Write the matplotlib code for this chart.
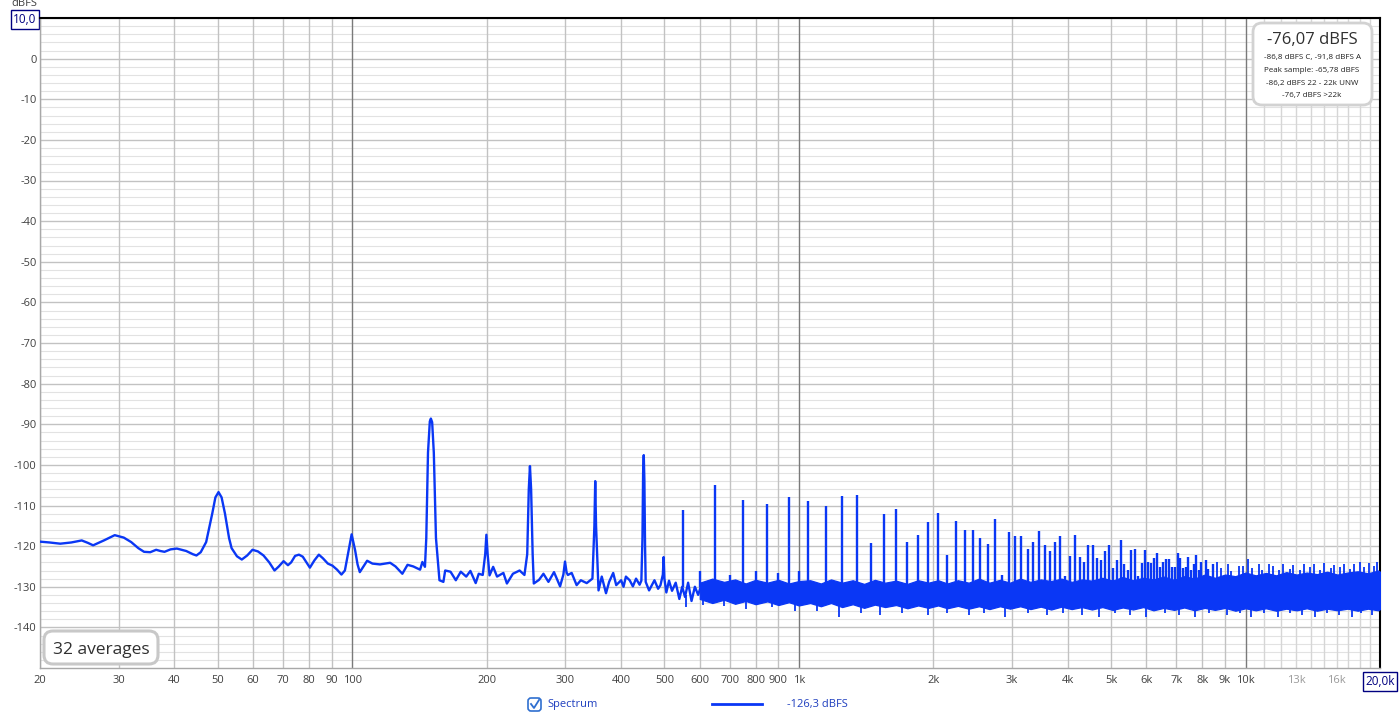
import matplotlib.pyplot as plt
from matplotlib.patches import FancyBboxPatch
from matplotlib.lines import Line2D
from matplotlib.ticker import NullLocator
from matplotlib.transforms import IdentityTransform

plt.rcParams['font.family'] = ['Open Sans', 'DejaVu Sans']

BLUE = '#0a37f5'
W, H = 1400, 716

# trace below ~600 Hz (Hz, dBFS)
low_freq = [20, 21, 22.2, 23.5, 24.8, 25.6, 26.3, 27.8, 29.4, 30.8, 32.0, 33.2, 34.2, 35.3, 36.4,
            37.2, 38.0, 39.2, 40.5, 42.5, 44.0, 44.8, 45.8, 47.1, 48.6, 49.4, 50.2, 51.0, 51.9,
            53.0, 53.7, 55.2, 56.6, 58.2, 59.8, 61.5, 63.3, 65.2, 67.0, 68.5, 70.2, 71.8, 73.0,
            74.5, 76.0, 77.5, 79.0, 80.4, 82.3, 84.2, 86.0, 88.2, 90.3, 92.5, 94.6, 96.3, 97.8,
            99.7, 101.5, 102.8, 104, 106, 108, 111, 115.4, 121.6, 125, 129.5, 133, 137,
            141.9, 143.6, 145.5, 146.5, 147.8, 149.2, 150, 151, 152.3, 154, 156.8, 160, 161.5,
            166, 170.6, 175, 180, 183.9, 189, 192, 196, 198.5, 199.7, 201, 203, 206.8, 211, 218,
            222, 229, 237, 243, 246.5, 248.5, 250, 251.5, 253.5, 255, 262, 268, 275, 283, 292,
            297, 299.5, 302, 304, 310, 318, 325, 335, 345, 348.5, 350, 351.5, 356, 362, 370, 376,
            384, 390, 400, 405, 410, 418, 425, 432, 440, 444, 446.5, 448, 449.5, 451, 452.5, 454,
            462, 475, 484, 490, 496, 498, 500, 505, 512, 520, 530, 540, 548, 556, 565, 575, 585,
            595, 605]
low_db = [-118.9, -119.1, -119.4, -119.1, -118.6, -119.2, -119.8, -118.6, -117.3, -117.9, -119.0,
          -120.5, -121.4, -121.5, -120.9, -121.2, -121.4, -120.8, -120.6, -121.2, -122.0, -122.3,
          -121.5, -119.0, -112.0, -108.0, -106.7, -108.0, -112.0, -118.0, -120.5, -122.5, -123.3,
          -122.3, -120.9, -121.3, -122.3, -124.0, -126.0, -125.0, -123.7, -124.7, -124.0, -122.4,
          -122.1, -122.6, -124.0, -125.3, -123.5, -122.1, -123.0, -124.3, -124.8, -125.8, -127.0,
          -126.0, -122.0, -117.1, -121.0, -124.5, -126.4, -125.0, -123.6, -124.3, -124.5, -124.1,
          -125.0, -126.8, -124.6, -125.0, -125.8, -123.9, -125.1, -118.0, -97.0, -89.3, -88.6,
          -89.5, -97.0, -118.0, -128.4, -128.8, -126.0, -126.3, -128.4, -126.3, -127.5, -126.1,
          -129.1, -126.8, -127.1, -122.0, -117.2, -122.0, -127.2, -125.1, -127.5, -126.6, -129.2,
          -126.8, -126.0, -127.1, -122.0, -106.0, -100.3, -106.0, -122.0, -129.2, -128.3, -126.8,
          -128.8, -126.4, -129.9, -127.0, -123.8, -126.5, -127.1, -126.6, -129.6, -128.4, -129.1,
          -128.0, -115.0, -104.0, -115.0, -130.9, -127.5, -131.6, -128.8, -126.6, -129.6, -128.4,
          -130.0, -127.5, -128.4, -129.9, -128.0, -129.5, -128.5, -118.0, -102.0, -97.6, -104.0,
          -120.0, -128.8, -130.9, -128.4, -130.5, -129.6, -127.0, -122.7, -128.0, -131.4, -128.5,
          -131.0, -129.0, -133.0, -130.0, -132.5, -129.0, -133.5, -130.0, -132.0, -129.5]

# noise floor band above ~600 Hz (upper / lower edge)
band_freq = [600, 640, 680, 720, 760, 800, 850, 900, 950, 1000,
             1060, 1120, 1180, 1250, 1320, 1400, 1480, 1560, 1650, 1750, 1850, 1950,
             2050, 2150, 2270, 2400, 2530, 2670, 2820, 2970, 3130, 3300, 3480, 3670,
             3870, 4080, 4300, 4530, 4780, 5040, 5310, 5600, 5900, 6220, 6560, 6920,
             7290, 7690, 8100, 8540, 9000, 9490, 10000, 10540, 11110, 11710, 12340, 13010,
             13710, 14450, 15230, 16050, 16920, 17830, 18800, 19810, 20000]
band_hi = [-129.0, -128.0, -128.8, -128.2, -129.2, -128.3, -129.0, -128.3, -129.2, -128.6,
           -128.4, -129.2, -128.2, -129.0, -128.4, -129.3, -128.3, -129.0, -128.5, -129.3, -128.4, -129.0,
           -128.4, -129.2, -128.4, -129.0, -128.0, -129.0, -128.3, -129.0, -128.0, -128.8, -128.2, -128.6,
           -128.0, -128.8, -128.2, -128.5, -127.8, -128.5, -127.6, -128.4, -127.8, -128.2, -127.5, -128.3,
           -127.4, -128.0, -127.0, -127.8, -127.0, -127.4, -126.5, -127.2, -126.6, -127.2, -126.4, -127.0,
           -126.5, -126.9, -126.3, -127.0, -126.5, -126.2, -126.7, -126.0, -126.3]
band_lo = [-133.0, -134.0, -133.2, -134.2, -133.5, -134.3, -133.6, -134.5, -133.8, -134.6,
           -134.0, -134.8, -134.0, -135.0, -134.3, -135.2, -134.4, -135.0, -134.5, -135.3, -134.6, -135.2,
           -134.6, -135.3, -134.7, -135.4, -134.8, -135.5, -134.8, -135.4, -134.8, -135.5, -134.9, -135.6,
           -134.9, -135.5, -135.0, -135.6, -135.0, -135.7, -135.1, -135.6, -135.0, -135.8, -135.2, -135.7,
           -135.1, -135.8, -135.2, -135.7, -135.2, -135.9, -135.3, -135.8, -135.3, -135.9, -135.4, -135.8,
           -135.3, -135.9, -135.4, -135.8, -135.4, -135.9, -135.4, -135.8, -135.5]

# harmonic spikes (Hz, dBFS)
peak_freq = [550, 600, 650, 700, 750, 800, 850, 900, 950, 1000, 1050, 1150, 1250, 1350, 1450, 1550,
             1650, 1750, 1850, 1950, 2050, 2150, 2250, 2350, 2450, 2550, 2650, 2750, 2850, 2950,
             3050, 3150, 3250, 3350, 3450, 3550, 3650, 3750, 3850, 3950, 4050, 4150, 4250, 4350,
             4450, 4550, 4650, 4750, 4850, 4950, 5050, 5150, 5250, 5350, 5450, 5550, 5650, 5750,
             5850, 5950, 6050, 6150, 6250, 6350, 6450, 6550, 6650, 6750, 6850, 6950, 7050, 7150,
             7250, 7350, 7450, 7550, 7650, 7750, 7850, 7950, 8150, 8250, 8450]
peak_db = [-111.0, -126.0, -105.0, -127.0, -108.7, -126.0, -109.7, -126.5, -108.0, -126.0, -109.0, -110.0,
           -107.7, -107.5, -119.2, -112.0, -110.9, -119.1, -117.3, -114.1, -111.8, -122.3, -113.9, -116.1,
           -116.1, -118.1, -119.5, -113.4, -127.0, -116.5, -117.5, -117.6, -120.6, -119.1, -116.3, -119.6,
           -121.1, -119.1, -117.5, -127.4, -122.5, -117.2, -122.7, -123.8, -119.6, -119.7, -122.9, -123.5,
           -121.2, -119.8, -125.5, -123.3, -118.4, -124.3, -125.8, -120.9, -120.7, -127.4, -124.1, -120.9,
           -124.0, -124.2, -122.8, -121.7, -125.1, -123.9, -123.1, -123.2, -125.1, -125.1, -121.6, -122.8,
           -125.5, -125.1, -122.6, -125.8, -124.5, -122.3, -125.8, -123.9, -123.5, -125.6, -124.5]

# noise needles above the band (top end) and below it
up_freq = [8650, 8800, 9150, 9300, 9650, 9850, 10150, 10350, 10700, 10900, 11300, 11500, 11900,
           12100, 12550, 12800, 13250, 13500, 13950, 14200, 14700, 15000, 15500, 15800, 16300,
           16600, 17100, 17500, 18000, 18400, 18900, 19400, 19700]
up_db = [-124.0, -125.5, -124.5, -126.0, -125.0, -124.8, -123.2, -125.5, -124.3, -125.8, -124.3,
         -125.0, -125.8, -124.5, -125.6, -124.6, -125.8, -124.3, -125.2, -124.5, -125.9, -124.2,
         -125.5, -124.6, -125.2, -124.3, -125.6, -124.5, -124.0, -125.1, -124.2, -124.8, -124.0]
dn_freq = [560, 610, 680, 760, 870, 980, 1100, 1230, 1380, 1520, 1700, 1950, 2150, 2400, 2600,
           2900, 3250, 3600, 3900, 4300, 4700, 5100, 5500, 6000, 6600, 7100, 7700, 8300, 9100,
           9700, 10300, 11000, 11800, 12600, 13400, 14300, 15200, 16200, 17300, 18100, 19200]
dn_db = [-135.0, -134.5, -134.8, -135.5, -135.0, -136.0, -136.0, -137.5, -136.5, -137.0, -136.5,
         -137.0, -136.5, -137.0, -136.5, -137.5, -136.5, -137.0, -136.5, -137.0, -137.5, -136.5,
         -137.0, -137.5, -136.5, -137.0, -137.5, -136.5, -137.0, -136.5, -137.5, -136.5, -137.5,
         -136.5, -137.0, -137.5, -136.5, -137.0, -137.5, -136.5, -137.0]

x_ticks = [20, 30, 40, 50, 60, 70, 80, 90, 100, 200, 300, 400, 500, 600, 700, 800, 900, 1000,
           2000, 3000, 4000, 5000, 6000, 7000, 8000, 9000, 10000, 13000, 16000, 20000]
x_labels = ['20', '30', '40', '50', '60', '70', '80', '90', '100', '200', '300', '400', '500', '600',
            '700', '800', '900', '1k', '2k', '3k', '4k', '5k', '6k', '7k', '8k', '9k', '10k', '13k',
            '16k', '20,0k']
x_fine = [11000, 12000, 14000, 15000, 17000, 18000, 19000]
y_ticks = [-140, -130, -120, -110, -100, -90, -80, -70, -60, -50, -40, -30, -20, -10, 0, 10]
y_labels = ['-140', '-130', '-120', '-110', '-100', '-90', '-80', '-70', '-60', '-50', '-40',
            '-30', '-20', '-10', '0', '10,0']

fig = plt.figure(figsize=(W / 100, H / 100), dpi=100)
ax = fig.add_axes([40 / W, 48 / H, 1340 / W, 650 / H])
ax.set_xscale('log')
ax.set_xlim(20, 20000)
ax.set_ylim(-150, 10)

# grid
for y in range(-150, 10, 2):
    if y % 10:
        ax.axhline(y, color='#e2e2e2', lw=0.8, zorder=0)
for y in y_ticks:
    ax.axhline(y, color='#c2c2c2', lw=1.0, zorder=0.5)
for x in x_fine:
    ax.axvline(x, color='#d6d6d6', lw=1.0, zorder=0.5)
for x in x_ticks:
    c = '#7a7a7a' if x in (100, 1000, 10000) else '#c2c2c2'
    if x in (13000, 16000):
        c = '#d6d6d6'
    ax.axvline(x, color=c, lw=1.0, zorder=0.6)

# spectrum
ax.plot(low_freq, low_db, color=BLUE, lw=1.7, zorder=3, solid_joinstyle='round')
ax.fill_between(band_freq, band_lo, band_hi, color=BLUE, lw=0.9, zorder=3)
ax.vlines(peak_freq, -130, peak_db, color=BLUE, lw=1.7, zorder=3)
ax.vlines(up_freq, -130, up_db, color=BLUE, lw=1.3, zorder=3)
ax.vlines(dn_freq, -132, dn_db, color=BLUE, lw=1.3, zorder=3)

ax.set_xticks(x_ticks)
ax.set_xticklabels(x_labels)
ax.xaxis.set_minor_locator(NullLocator())
ax.set_yticks(y_ticks)
ax.set_yticklabels(y_labels)
ax.tick_params(axis='both', length=0, labelsize=8, labelcolor='#404040')
ax.tick_params(axis='x', pad=5)
ax.tick_params(axis='y', pad=2.5)
for lab in ax.get_xticklabels():
    if lab.get_text() in ('13k', '16k'):
        lab.set_color('#9a9a9a')
    if lab.get_text() == '20,0k':
        lab.set_color('#000080')
        lab.set_fontsize(8.5)
        lab.set_bbox(dict(boxstyle='square,pad=0.22', fc='white', ec='#000080', lw=1))
for lab in ax.get_yticklabels():
    if lab.get_text() == '10,0':
        lab.set_color('#000080')
        lab.set_fontsize(8.5)
        lab.set_bbox(dict(boxstyle='square,pad=0.22', fc='white', ec='#000080', lw=1))

for s in ('left', 'bottom'):
    ax.spines[s].set_color('#a8a8a8')
    ax.spines[s].set_linewidth(1.0)
for s in ('top', 'right'):
    ax.spines[s].set_color('black')
    ax.spines[s].set_linewidth(1.5)

fig.text(24 / W, 1 - 3 / H, 'dBFS', ha='center', va='center', fontsize=8, color='#404040')

# level readout box (top right)
px = IdentityTransform()
fig.patches.append(FancyBboxPatch((1253, H - 105), 119, 82, boxstyle='round,pad=0,rounding_size=9',
                                  transform=px, fc='white', ec='#d2d2d2', lw=2, zorder=5))
fig.text(1312 / W, 1 - 40 / H, '-76,07 dBFS', ha='center', va='center', fontsize=12, color='#303030', zorder=6)
readout = ['-86,8 dBFS C, -91,8 dBFS A', 'Peak sample: -65,78 dBFS', '-86,2 dBFS 22 - 22k UNW', '-76,7 dBFS >22k']
for i, line in enumerate(readout):
    fig.text(1312 / W, 1 - (58 + i * 12.5) / H, line, ha='center', va='center', fontsize=5.8,
             color='#202020', zorder=6)

# averages box (bottom left)
fig.patches.append(FancyBboxPatch((44, H - 664), 114, 33, boxstyle='round,pad=0,rounding_size=9',
                                  transform=px, fc='white', ec='#c8c8c8', lw=2.2, zorder=5))
fig.text(101 / W, 1 - 650 / H, '32 averages', ha='center', va='center', fontsize=12.5, color='#303030', zorder=6)

# bottom legend
fig.patches.append(FancyBboxPatch((528, H - 711), 13, 13, boxstyle='round,pad=0,rounding_size=3',
                                  transform=px, fc='white', ec='#2f6fd0', lw=1.2))
fig.lines.append(Line2D([531, 534, 539], [H - 704, H - 708, H - 700], transform=px, color='#2f6fd0', lw=1.3))
fig.text(547 / W, 1 - 704 / H, 'Spectrum', ha='left', va='center', fontsize=8, color='#1f3fbf')
fig.lines.append(Line2D([712, 762], [H - 704, H - 704], transform=px, color=BLUE, lw=2))
fig.text(787 / W, 1 - 704 / H, '-126,3 dBFS', ha='left', va='center', fontsize=8, color='#1f3fbf')

fig.savefig('out.png', dpi=100, facecolor='white')
